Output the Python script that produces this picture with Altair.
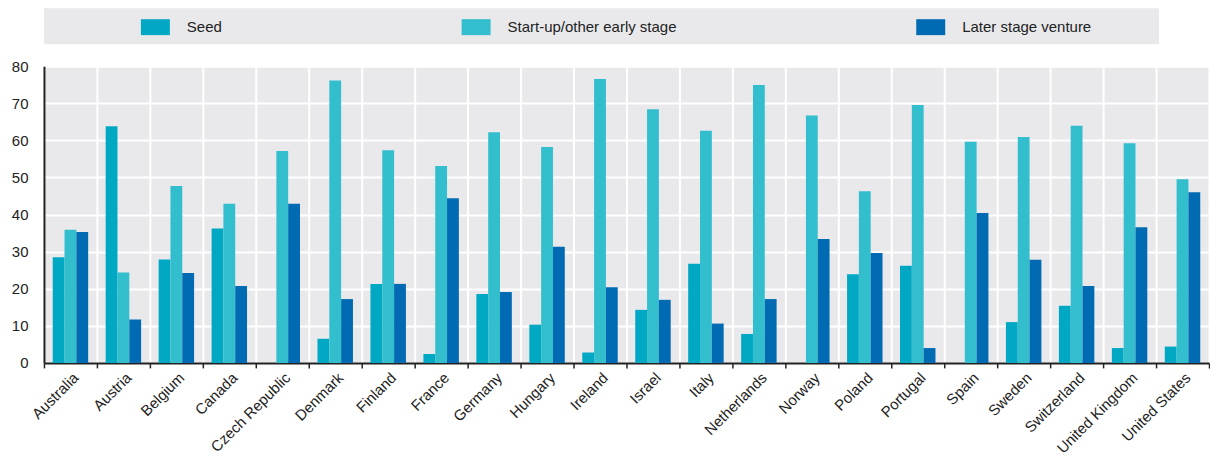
import altair as alt
import pandas as pd

countries = ["Australia", "Austria", "Belgium", "Canada", "Czech Republic", "Denmark",
             "Finland", "France", "Germany", "Hungary", "Ireland", "Israel", "Italy",
             "Netherlands", "Norway", "Poland", "Portugal", "Spain", "Sweden",
             "Switzerland", "United Kingdom", "United States"]
seed = [28.5, 63.8, 27.9, 36.2, 0.0, 6.5, 21.3, 2.4, 18.6, 10.3, 2.8, 14.3, 26.7,
        7.8, 0.0, 23.9, 26.2, 0.0, 11.0, 15.4, 4.0, 4.4]
startup = [35.9, 24.4, 47.7, 42.9, 57.1, 76.1, 57.3, 53.1, 62.2, 58.2, 76.5, 68.4,
           62.6, 74.9, 66.7, 46.3, 69.5, 59.6, 60.9, 63.9, 59.2, 49.5]
later = [35.3, 11.7, 24.2, 20.7, 42.9, 17.2, 21.3, 44.4, 19.1, 31.3, 20.4, 17.0,
         10.6, 17.2, 33.4, 29.6, 4.0, 40.4, 27.8, 20.7, 36.6, 46.0]
series = ["Seed", "Start-up/other early stage", "Later stage venture"]
colors = ["#00A8C4", "#33BECE", "#006AB2"]

rows = []
for i, c in enumerate(countries):
    for s, vals in zip(series, [seed, startup, later]):
        rows.append({"country": c, "series": s, "value": vals[i]})
df = pd.DataFrame(rows)

FONT = "Liberation Sans"
W = 1166
H = 297

bg = alt.Chart(pd.DataFrame({"a": [0]})).mark_rect(color="#E9E9EC").encode(
    x=alt.value(0), x2=alt.value(1116), y=alt.value(-58), y2=alt.value(-22)
)

bars = alt.Chart(df).mark_bar().encode(
    x=alt.X("country:N", sort=countries, title=None,
            scale=alt.Scale(paddingInner=0, paddingOuter=0),
            axis=alt.Axis(tickBand="extent", grid=True, gridColor="white", gridWidth=2,
                          labelAngle=-45, labelFontSize=15, labelFont=FONT,
                          labelColor="#222222", domainColor="#222222", domainWidth=2,
                          tickColor="#222222", tickSize=5, tickWidth=1.5,
                          labelPadding=2)),
    xOffset=alt.XOffset("series:N", sort=series,
                        scale=alt.Scale(paddingInner=0, paddingOuter=0.74)),
    y=alt.Y("value:Q", title=None, scale=alt.Scale(domain=[0, 80]),
            axis=alt.Axis(values=list(range(0, 81, 10)), grid=True, gridColor="white",
                          gridWidth=2, ticks=False, labelPadding=16, labelFontSize=15,
                          labelFont=FONT, labelColor="#222222", domainColor="#222222",
                          domainWidth=2)),
    color=alt.Color("series:N", sort=series,
                    scale=alt.Scale(domain=series, range=colors),
                    legend=alt.Legend(title=None, orient="none", legendX=97, legendY=-53.5,
                                      direction="horizontal", gridAlign="none",
                                      columnPadding=239, labelFontSize=15, labelFont=FONT,
                                      labelColor="#222222", labelOffset=17,
                                      symbolType="M-1,-0.55H1V0.55H-1Z", symbolSize=841,
                                      symbolStrokeWidth=0, symbolOpacity=1, padding=0,
                                      zindex=1, labelLimit=400)),
)

chart = alt.layer(bg, bars).properties(
    width=W, height=H,
    padding={"left": 3, "top": 0, "right": 0, "bottom": 0},
).configure_view(fill="#E9E9EC", stroke=None)

chart.save("out.html", embed_options={"renderer": "svg", "actions": False})
